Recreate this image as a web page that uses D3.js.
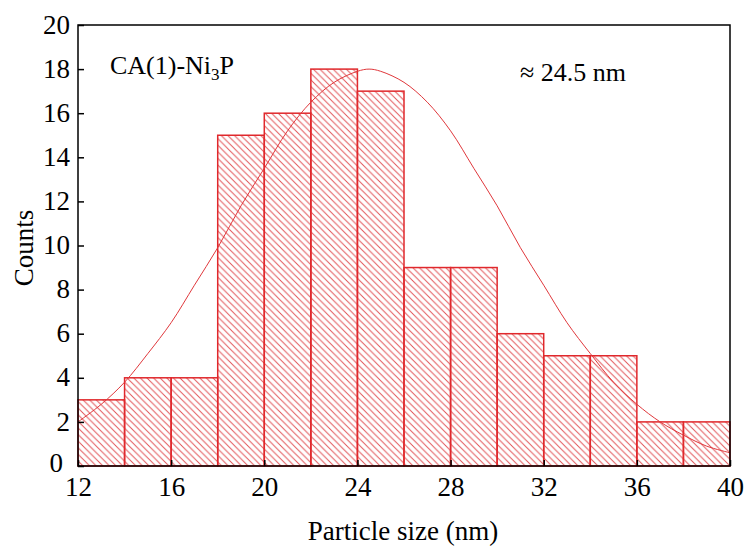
<!DOCTYPE html>
<html>
<head>
<meta charset="utf-8">
<script src="https://cdn.jsdelivr.net/npm/d3@7"></script>
<style>
html,body{margin:0;padding:0;background:#fff;}
svg{display:block;}
svg text{font-family:"Liberation Serif","Times New Roman",serif !important;}
</style>
</head>
<body>
<svg id="chart" width="749" height="546"></svg>
<script>
// ---- data ----
const binStarts = [12,14,16,18,20,22,24,26,28,30,32,34,36,38];
const binWidth = 2;
const counts = [3,4,4,15,16,18,17,9,9,6,5,5,2,2];
const fitX = [12,13,14,15,16,17,18,19,20,21,22,23,24,24.5,25,26,27,28,29,30,31,32,33,34,35,36,37,38,39,40];
const fitY = [2.0,2.8,3.8,5.1,6.5,8.2,9.9,11.8,13.5,15.2,16.5,17.4,17.9,18.0,17.9,17.4,16.5,15.2,13.5,11.8,9.9,8.2,6.5,5.1,3.8,2.8,2.0,1.4,0.9,0.6];
const xTicks = [12,16,20,24,28,32,36,40];
const yTicks = [0,2,4,6,8,10,12,14,16,18,20];
const sampleLabel = "CA(1)-Ni";
const sizeLabel = "\u2248 24.5 nm";

// ---- chart ----
const svg = d3.select("#chart");
const x = d3.scaleLinear().domain([12,40]).range([78,730]);
const y = d3.scaleLinear().domain([0,20]).range([466,25]);
const red = "#e0282c";
const serif = "Liberation Serif, Times New Roman, serif";

const defs = svg.append("defs");
const pat = defs.append("pattern")
  .attr("id","hatch").attr("patternUnits","userSpaceOnUse")
  .attr("width",6.6).attr("height",6.6);
pat.append("path")
  .attr("d","M-1,-1 L7.6,7.6 M-1,5.6 L1,7.6 M5.6,-1 L7.6,1")
  .attr("stroke","#e25559").attr("stroke-width",1);

// bars
svg.append("g").selectAll("rect").data(binStarts).join("rect")
  .attr("x", d => x(d))
  .attr("width", d => x(d+binWidth)-x(d))
  .attr("y", (d,i) => y(counts[i]))
  .attr("height", (d,i) => y(0)-y(counts[i]))
  .attr("fill","url(#hatch)")
  .attr("stroke",red).attr("stroke-width",1.5);

// fit curve
const line = d3.line().x(d=>x(d[0])).y(d=>y(d[1])).curve(d3.curveCatmullRom);
svg.append("path")
  .datum(fitX.map((v,i)=>[v,fitY[i]]))
  .attr("d",line).attr("fill","none")
  .attr("stroke","#e0383c").attr("stroke-width",1);

// frame
svg.append("rect").attr("x",x(12)).attr("y",y(20))
  .attr("width",x(40)-x(12)).attr("height",y(0)-y(20))
  .attr("fill","none").attr("stroke","#000").attr("stroke-width",1.5);

// axes
const xAxis = d3.axisBottom(x).tickValues(xTicks).tickSize(-6).tickPadding(11);
const yAxis = d3.axisLeft(y).tickValues(yTicks).tickSize(-6).tickPadding(8);
const gx = svg.append("g").attr("transform",`translate(0,${y(0)})`).call(xAxis);
const gy = svg.append("g").attr("transform",`translate(${x(12)},0)`).call(yAxis);
[gx,gy].forEach(g=>{
  g.attr("font-family",serif).attr("font-size",27);
  g.select(".domain").remove();
  g.selectAll(".tick line").attr("stroke","#000").attr("stroke-width",1.5);
  g.selectAll(".tick text").attr("fill","#000");
});
gx.selectAll(".tick text").attr("dy","0.71em");
gy.selectAll(".tick text").attr("dy","0.3em");
// nudge the "0" label so it does not collide with "12"
gy.selectAll(".tick").filter(d => d === 0).select("text").attr("x", -15).attr("dy","0.22em");

// axis titles
svg.append("text").attr("x",403).attr("y",540).attr("text-anchor","middle")
  .attr("font-size",27).attr("fill","#000").text("Particle size (nm)");
svg.append("text").attr("transform","translate(33,248) rotate(-90)")
  .attr("text-anchor","middle").attr("font-size",27).attr("fill","#000").text("Counts");

// annotations
const t1 = svg.append("text").attr("x",110).attr("y",74).attr("font-size",26).attr("fill","#000");
t1.append("tspan").text(sampleLabel);
t1.append("tspan").attr("font-size",17).attr("dy",6).text("3");
t1.append("tspan").attr("dy",-6).text("P");
svg.append("text").attr("x",520).attr("y",81).attr("font-size",26).attr("fill","#000").text(sizeLabel);
</script>
</body>
</html>
